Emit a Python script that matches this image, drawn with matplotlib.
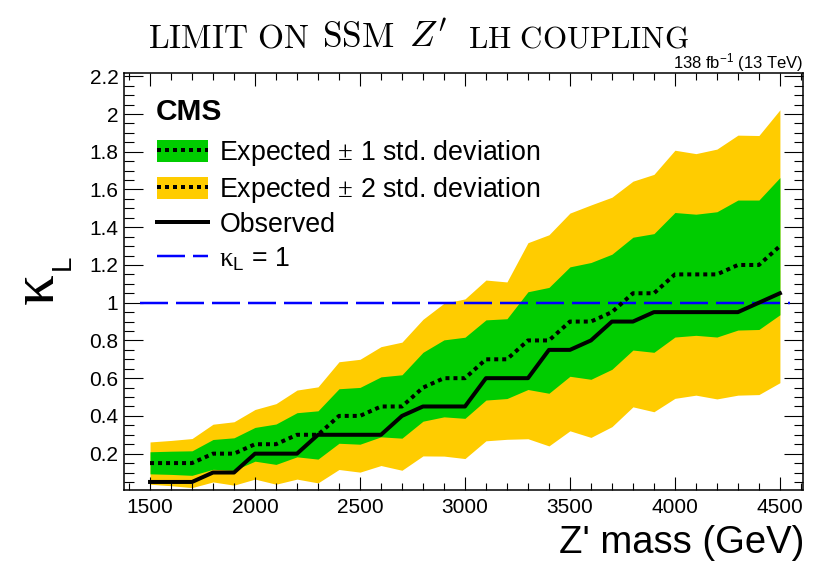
import matplotlib
matplotlib.use('Agg')
import matplotlib.pyplot as plt
from matplotlib.patches import Patch
from matplotlib.lines import Line2D
from matplotlib.ticker import MultipleLocator, FuncFormatter

# ---------------- data ----------------
mass = [1500, 1600, 1700, 1800, 1900, 2000, 2100, 2200, 2300, 2400, 2500,
        2600, 2700, 2800, 2900, 3000, 3100, 3200, 3300, 3400, 3500, 3600,
        3700, 3800, 3900, 4000, 4100, 4200, 4300, 4400, 4500]
observed = [0.05, 0.05, 0.05, 0.10, 0.10, 0.20, 0.20, 0.20, 0.30, 0.30, 0.30,
            0.30, 0.40, 0.45, 0.45, 0.45, 0.60, 0.60, 0.60, 0.75, 0.75, 0.80,
            0.90, 0.90, 0.95, 0.95, 0.95, 0.95, 0.95, 1.00, 1.05]
expected = [0.15, 0.15, 0.15, 0.20, 0.20, 0.25, 0.25, 0.30, 0.30, 0.40, 0.40,
            0.45, 0.45, 0.55, 0.60, 0.60, 0.70, 0.70, 0.80, 0.80, 0.90, 0.90,
            0.95, 1.05, 1.05, 1.15, 1.15, 1.15, 1.20, 1.20, 1.30]
exp_1sig_hi = [0.210, 0.213, 0.215, 0.275, 0.284, 0.339, 0.357, 0.417, 0.427,
               0.544, 0.551, 0.607, 0.618, 0.737, 0.803, 0.817, 0.909, 0.915,
               1.058, 1.081, 1.190, 1.213, 1.257, 1.347, 1.366, 1.478, 1.469,
               1.482, 1.544, 1.544, 1.663]
exp_1sig_lo = [0.093, 0.090, 0.085, 0.117, 0.112, 0.160, 0.143, 0.183, 0.171,
               0.255, 0.250, 0.289, 0.282, 0.372, 0.395, 0.387, 0.484, 0.492,
               0.540, 0.520, 0.610, 0.594, 0.647, 0.749, 0.737, 0.818, 0.827,
               0.818, 0.855, 0.858, 0.936]
exp_2sig_hi = [0.262, 0.270, 0.280, 0.356, 0.369, 0.434, 0.465, 0.537, 0.554,
               0.687, 0.700, 0.767, 0.791, 0.912, 0.997, 1.020, 1.120, 1.110,
               1.318, 1.360, 1.475, 1.518, 1.559, 1.644, 1.680, 1.808, 1.790,
               1.814, 1.888, 1.886, 2.022]
exp_2sig_lo = [0.038, 0.030, 0.020, 0.050, 0.033, 0.065, 0.038, 0.065, 0.045,
               0.116, 0.102, 0.137, 0.112, 0.188, 0.187, 0.174, 0.268, 0.276,
               0.279, 0.241, 0.321, 0.286, 0.343, 0.448, 0.422, 0.493, 0.510,
               0.490, 0.510, 0.513, 0.576]
kappa_ref = 1.0
kappa_ref_range = [1450, 4550]

legend_labels = ['Expected $\\pm$ 1 std. deviation',
                 'Expected $\\pm$ 2 std. deviation',
                 'Observed',
                 r'$\mathrm{\kappa}_{\mathsf{L}}$ = 1']

# ---------------- style ----------------
plt.rcParams['font.family'] = ['Liberation Sans', 'DejaVu Sans']
plt.rcParams['mathtext.fontset'] = 'custom'
plt.rcParams['mathtext.rm'] = 'Liberation Serif'
plt.rcParams['mathtext.sf'] = 'Liberation Sans'
plt.rcParams['mathtext.it'] = 'Liberation Sans:italic'

GREEN = '#00CC00'
YELLOW = '#FFCC00'
W, H = 816, 561
PX = 0.72  # points per pixel at dpi 100

fig = plt.figure(figsize=(W / 100, H / 100), dpi=100)
ax = fig.add_axes([124 / W, 1 - 489.5 / H, 679 / W, 417 / H])

ax.fill_between(mass, exp_2sig_lo, exp_2sig_hi, color=YELLOW, lw=0, zorder=1)
ax.fill_between(mass, exp_1sig_lo, exp_1sig_hi, color=GREEN, lw=0, zorder=2)
ax.plot(kappa_ref_range, [kappa_ref, kappa_ref], color='#0000FF',
        lw=2.5 * PX, ls=(0, (11.2, 3.2)), zorder=3)
ax.plot(mass, expected, color='black', lw=4 * PX, ls=(0, (1, 1)), zorder=4)
ax.plot(mass, observed, color='black', lw=4 * PX, zorder=5)

ax.set_xlim(1376, 4610)
ax.set_ylim(0.01, 2.22)

ax.xaxis.set_major_locator(MultipleLocator(500))
ax.xaxis.set_minor_locator(MultipleLocator(100))
ax.yaxis.set_major_locator(MultipleLocator(0.2))
ax.yaxis.set_minor_locator(MultipleLocator(0.05))
ax.yaxis.set_major_formatter(FuncFormatter(lambda v, p: f'{v:g}'))

ax.tick_params(which='both', direction='in', top=True, right=True,
               width=0.8, labelsize=15, color='black')
ax.tick_params(axis='x', which='major', length=13 * PX, pad=6)
ax.tick_params(axis='x', which='minor', length=7 * PX)
ax.tick_params(axis='y', which='major', length=19 * PX, pad=4)
ax.tick_params(axis='y', which='minor', length=9.5 * PX)
for s in ax.spines.values():
    s.set_linewidth(1.1)

# axis titles
ax.set_xlabel("Z' mass (GeV)", fontsize=27.5, loc='right')
ax.xaxis.label.set_va('baseline')
ax.xaxis.set_label_coords(804 / W, 1 - 553 / H, transform=fig.transFigure)

ax.set_ylabel('κ', fontsize=44, family=['Liberation Serif', 'DejaVu Serif'])
ax.yaxis.label.set_va('baseline')
ax.yaxis.set_label_coords(53 / W, 1 - 289 / H, transform=fig.transFigure)
fig.text(70 / W, 1 - 262 / H, 'L', fontsize=20, rotation=90,
         rotation_mode='anchor', ha='center', va='baseline')

# legend
handles = [
    (Patch(facecolor=GREEN, edgecolor='none'),
     Line2D([], [], color='black', lw=4 * PX, ls=(0, (1, 1)))),
    (Patch(facecolor=YELLOW, edgecolor='none'),
     Line2D([], [], color='black', lw=4 * PX, ls=(0, (1, 1)))),
    Line2D([], [], color='black', lw=4 * PX),
    Line2D([], [], color='#0000FF', lw=2.5 * PX, ls=(0, (11.2, 3.2))),
]
FS_LEG = 19.3
px_fs = FS_LEG / PX
leg = ax.legend(handles, legend_labels, loc='upper left',
                bbox_to_anchor=(156.7 / W, 1 - 138 / H),
                bbox_transform=fig.transFigure, frameon=False,
                fontsize=FS_LEG, handlelength=51 / px_fs,
                handleheight=24 / px_fs, handletextpad=11.6 / px_fs,
                labelspacing=0.26, borderpad=0, borderaxespad=0)

fig.text(156 / W, 1 - 120 / H, 'CMS', fontsize=21.5, fontweight='bold',
         ha='left', va='baseline')

fig.text(803 / W, 1 - 68 / H, r'138 fb$^{\mathsf{-1}}$ (13 TeV)',
         fontsize=12, ha='right', va='baseline')

# title assembled from pieces (small caps + roman + math)
pieces = [(r'$\mathrm{LIMIT\ ON}$', 24), (r'$\mathrm{SSM}$', 25.5),
          (r"$Z'$", 26.5), (r'$\mathrm{LH\ COUPLING}$', 22.3)]
starts = [148, 322, 409, 468]
for (s, fs), x0 in zip(pieces, starts):
    fig.text(x0 / W, 1 - 47 / H, s, fontsize=fs, math_fontfamily='cm',
             ha='left', va='baseline')

fig.savefig('out.png', dpi=100)
